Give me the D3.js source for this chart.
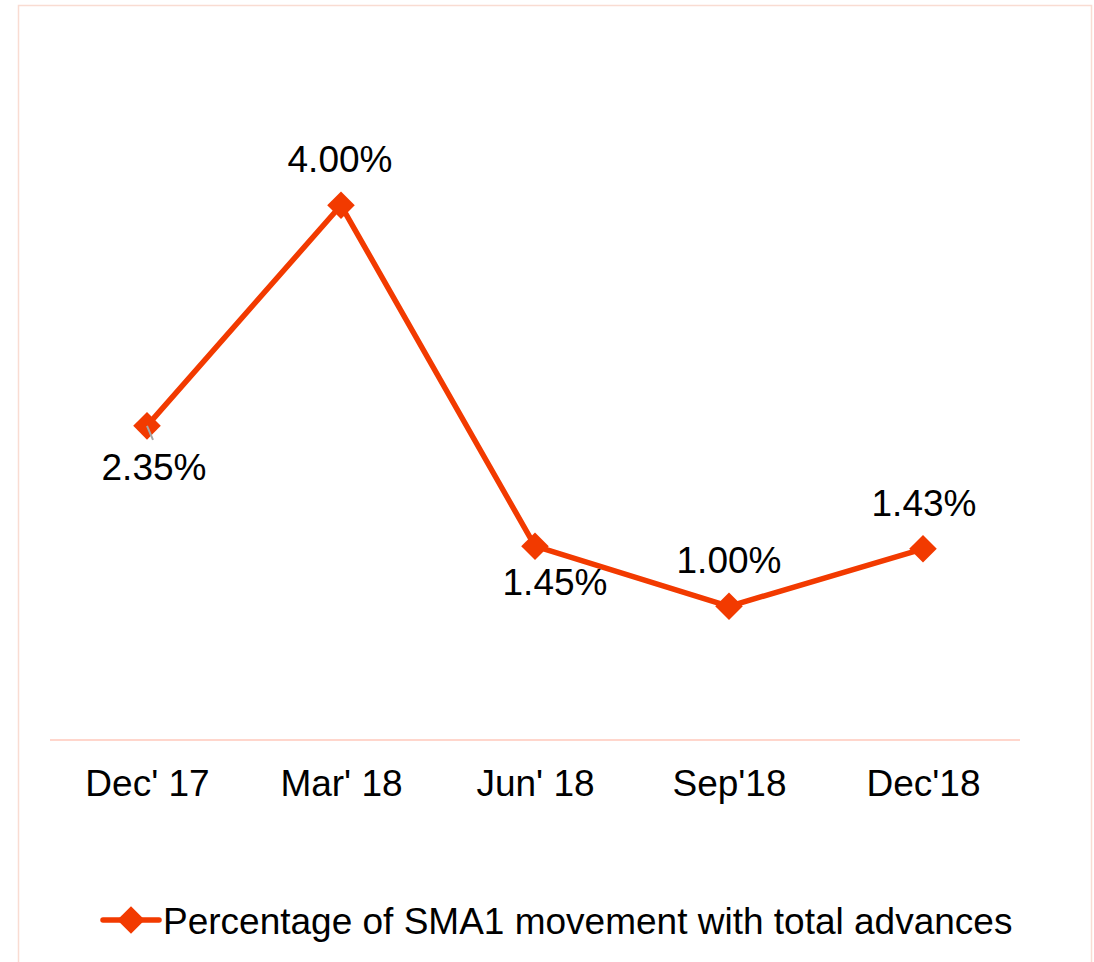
<!DOCTYPE html>
<html>
<head>
<meta charset="utf-8">
<script src="https://cdn.jsdelivr.net/npm/d3@7/dist/d3.min.js"></script>
<style>
  html, body { margin: 0; padding: 0; background: #ffffff; }
  svg { display: block; }
  text { font-family: "Liberation Sans", Arial, sans-serif; fill: #000; }
</style>
</head>
<body>
<div id="chart"></div>
<script>
// Quarterly share of SMA1 movement in total advances (%)
const categories = ["Dec' 17", "Mar' 18", "Jun' 18", "Sep'18", "Dec'18"];
const values = [2.35, 4.00, 1.45, 1.00, 1.43];
const valueLabels = ["2.35%", "4.00%", "1.45%", "1.00%", "1.43%"];
const seriesName = "Percentage of SMA1 movement with total advances";

// Data-label placement: [dx, dy] from the marker to the label baseline
const labelOffsets = [[7, 54], [-1, -33], [20, 49], [0, -33], [1, -33]];

const W = 1094, H = 962;
const color = "#f23a00";
const fontSize = 37;

const svg = d3.select("#chart").append("svg")
  .attr("width", W).attr("height", H);

// Chart frame
svg.append("rect")
  .attr("x", 18.5).attr("y", 5.5)
  .attr("width", 1073).attr("height", H + 20)
  .attr("fill", "#fff")
  .attr("stroke", "#f9dcd2").attr("stroke-width", 1.5);

const x = d3.scalePoint()
  .domain(categories)
  .range([50, 1020])
  .padding(0.5);

const y = d3.scaleLinear()
  .domain([0, 5])
  .range([740, 71.6]);

// Category axis
const xAxis = svg.append("g")
  .attr("transform", `translate(0,${y(0)})`)
  .call(d3.axisBottom(x).tickSize(0).tickPadding(56));
xAxis.select(".domain")
  .attr("stroke", "#ffd6cc").attr("stroke-width", 2)
  .attr("d", "M50,0H1020");
xAxis.selectAll(".tick text")
  .attr("font-size", fontSize)
  .attr("font-family", "'Liberation Sans', Arial, sans-serif")
  .attr("fill", "#000")
  .attr("dy", 0);

const pts = categories.map((c, i) => ({ c, v: values[i], label: valueLabels[i], off: labelOffsets[i] }));

// Series line
svg.append("path")
  .datum(pts)
  .attr("fill", "none")
  .attr("stroke", color)
  .attr("stroke-width", 5.5)
  .attr("stroke-linejoin", "round")
  .attr("d", d3.line().x(d => x(d.c)).y(d => y(d.v)));

// Diamond markers
const diamond = d3.symbol().type(d3.symbolSquare).size(380);
svg.selectAll(".marker")
  .data(pts)
  .join("path")
  .attr("class", "marker")
  .attr("d", diamond)
  .attr("transform", d => `translate(${x(d.c)},${y(d.v)}) rotate(45)`)
  .attr("fill", color);

// Leader line on the first data label
svg.append("line")
  .attr("x1", x(pts[0].c)).attr("y1", y(pts[0].v))
  .attr("x2", x(pts[0].c) + 6).attr("y2", y(pts[0].v) + 14)
  .attr("stroke", "#a6a6a6").attr("stroke-width", 2);

// Data labels
svg.selectAll(".vlabel")
  .data(pts)
  .join("text")
  .attr("class", "vlabel")
  .attr("x", d => x(d.c) + d.off[0])
  .attr("y", d => y(d.v) + d.off[1])
  .attr("text-anchor", "middle")
  .attr("font-size", fontSize)
  .text(d => d.label);

// Legend
const lg = svg.append("g").attr("transform", "translate(103,920)");
lg.append("line")
  .attr("x1", 0).attr("x2", 56).attr("y1", 0).attr("y2", 0)
  .attr("stroke", color).attr("stroke-width", 5.5).attr("stroke-linecap", "round");
lg.append("path")
  .attr("d", diamond)
  .attr("transform", "translate(28,0) rotate(45)")
  .attr("fill", color);
lg.append("text")
  .attr("x", 60).attr("y", 14)
  .attr("font-size", fontSize)
  .text(seriesName);
</script>
</body>
</html>
